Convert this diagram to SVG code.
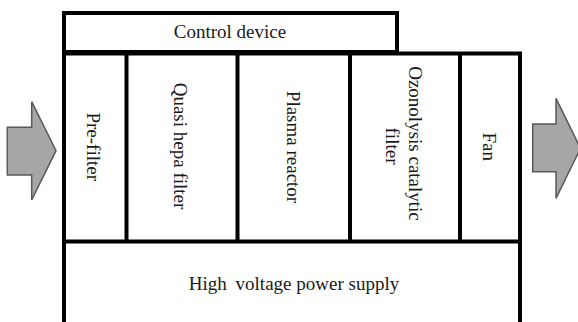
<svg xmlns="http://www.w3.org/2000/svg" width="578" height="322" viewBox="0 0 578 322">
<style>
.box{fill:none;stroke:#000;stroke-width:4}
.ln{stroke:#000;stroke-width:4;fill:none}
.lbl{font-family:"Liberation Serif","Times New Roman",serif;font-size:19px;fill:#1a1a1a}
.arr{fill:#a6a6a6;stroke:#595959;stroke-width:1.5}
</style>
<rect width="578" height="322" fill="#fff"/>
<g id="connectors">
<polygon class="arr" points="7.3,127.3 31.7,127.3 31.7,101.7 56,150.7 31.7,200 31.7,175 7.3,175"/>
<polygon class="arr" points="532.7,124 556,124 556,98.3 580.5,148.3 556,198.3 556,171.7 532.7,171.7"/>
</g>
<g id="control-device">
<rect class="box" x="64" y="13" width="333" height="39"/>
<text class="lbl" x="230" y="38" text-anchor="middle">Control device</text>
</g>
<g id="frame">
<path class="ln" d="M64,52 V322 M520,53 V322 M62,53.5 H522 M62,241.5 H522"/>
</g>
<g id="pre-filter">
<path class="ln" d="M126.5,53 V241.5"/>
<text class="lbl" transform="translate(87,146.7) rotate(90)" text-anchor="middle">Pre-filter</text>
</g>
<g id="quasi-hepa-filter">
<path class="ln" d="M237.5,53 V241.5"/>
<text class="lbl" transform="translate(174,146) rotate(90)" text-anchor="middle">Quasi hepa filter</text>
</g>
<g id="plasma-reactor">
<path class="ln" d="M350,53 V241.5"/>
<text class="lbl" transform="translate(286.5,147) rotate(90)" text-anchor="middle">Plasma reactor</text>
</g>
<g id="ozonolysis-catalytic-filter">
<path class="ln" d="M460,53 V241.5"/>
<text class="lbl" transform="translate(408.5,143.5) rotate(90)" text-anchor="middle">Ozonolysis catalytic</text>
<text class="lbl" transform="translate(385.5,146) rotate(90)" text-anchor="middle">filter</text>
</g>
<g id="fan">
<text class="lbl" transform="translate(483,146.7) rotate(90)" text-anchor="middle">Fan</text>
</g>
<g id="high-voltage-power-supply">
<text class="lbl" x="294" y="290" text-anchor="middle">High<tspan dx="4"> voltage power supply</tspan></text>
</g>
</svg>
